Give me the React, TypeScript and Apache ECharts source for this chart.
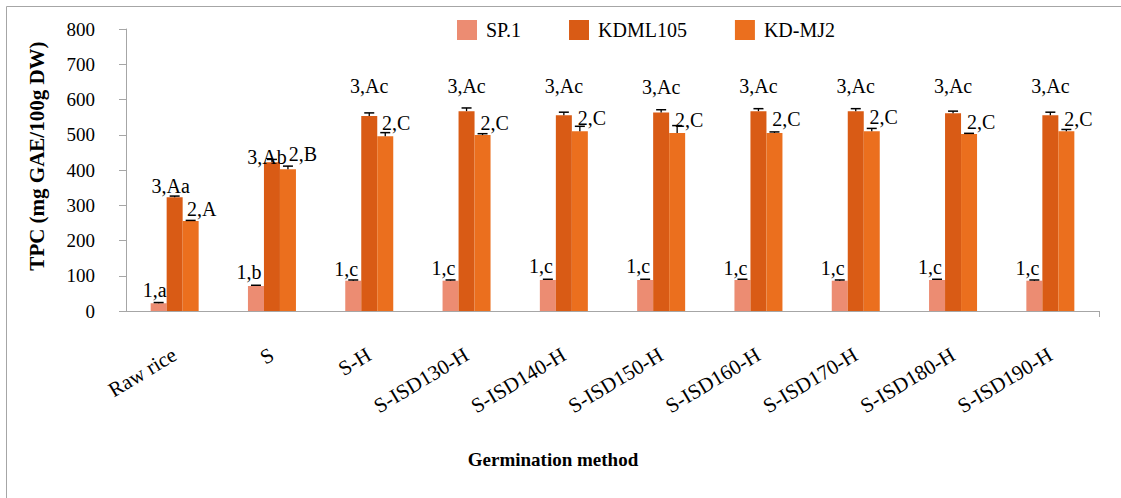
import React, { useEffect, useRef } from "react";
import * as echarts from "echarts";

const categories = ["Raw rice", "S", "S-H", "S-ISD130-H", "S-ISD140-H", "S-ISD150-H", "S-ISD160-H", "S-ISD170-H", "S-ISD180-H", "S-ISD190-H"];
const seriesNames = ["SP.1", "KDML105", "KD-MJ2"];

const sp1 = [22, 71, 86, 86, 88, 88, 88, 86, 88, 86];
const sp1Err = [2, 2, 2, 2, 2, 2, 2, 2, 2, 2];
const kdml = [323, 422, 553, 567, 555, 563, 567, 567, 561, 555];
const kdmlErr = [3, 8, 9, 9, 9, 8, 7, 7, 6, 9];
const kdmj = [255, 402, 496, 499, 510, 505, 505, 510, 502, 510];
const kdmjErr = [2, 9, 10, 4, 14, 21, 3, 8, 2, 5];

const sp1Labels = ["1,a", "1,b", "1,c", "1,c", "1,c", "1,c", "1,c", "1,c", "1,c", "1,c"];
const kdmlLabels = ["3,Aa", "3,Ab", "3,Ac", "3,Ac", "3,Ac", "3,Ac", "3,Ac", "3,Ac", "3,Ac", "3,Ac"];
const kdmjLabels = ["2,A", "2,B", "2,C", "2,C", "2,C", "2,C", "2,C", "2,C", "2,C", "2,C"];

const yTicks = { min: 0, max: 800, interval: 100 };

// label placement (pixel style offsets relative to the bar top)
const sp1LabelDx = [-4, -7, -7, -7, -7, -7, -7, -7, -7, -7];
const sp1LabelLift = [13, 14, 12, 13, 14, 14, 12, 13, 13, 13];
const kdmlLabelDx = [-4, -5, 0, 0, 0, 0, 0, 0, 0, 0];
const kdmlLabelLift = [11, 5, 30, 25, 29, 26, 25, 25, 27, 29];
const kdmjLabelDx = [11, 15, 11, 12, 12, 12, 12, 12, 12, 12];
const kdmjLabelLift = [12, 15, 13, 12, 13, 13, 14, 14, 12, 12];

const colors = ["#EC8C72", "#D95B15", "#EB6F1E"];
const FONT = "Liberation Serif";
const BAR_W = 16;

export default function App() {
  const ref = useRef<HTMLDivElement>(null);
  useEffect(() => {
    if (!ref.current) return;
    const chart = echarts.init(ref.current, null, { renderer: "svg" });

    const values = [sp1, kdml, kdmj];
    const errs = [sp1Err, kdmlErr, kdmjErr];
    const labels = [sp1Labels, kdmlLabels, kdmjLabels];
    const dxs = [sp1LabelDx, kdmlLabelDx, kdmjLabelDx];
    const lifts = [sp1LabelLift, kdmlLabelLift, kdmjLabelLift];

    const barSeries = seriesNames.map((name, s) => ({
      name,
      type: "bar",
      data: values[s],
      barWidth: BAR_W,
      barGap: "0%",
      itemStyle: { color: colors[s] },
      z: 2,
    }));

    const errSeries = seriesNames.map((name, s) => ({
      type: "custom",
      name: name + "-err",
      data: values[s].map((v, i) => [i, v, errs[s][i]]),
      z: 5,
      silent: true,
      renderItem: (params: any, api: any) => {
        const i = api.value(0);
        const v = api.value(1);
        const e = api.value(2);
        const base = api.coord([i, v]);
        const top = api.coord([i, v + e]);
        const x = base[0] + (s - 1) * BAR_W;
        const idx = params.dataIndex;
        const ly = base[1] - lifts[s][idx];
        return {
          type: "group",
          children: [
            { type: "line", shape: { x1: x, y1: base[1], x2: x, y2: top[1] }, style: { stroke: "#000", lineWidth: 1.3 } },
            { type: "line", shape: { x1: x - 5, y1: top[1], x2: x + 5, y2: top[1] }, style: { stroke: "#000", lineWidth: 1.5 } },
            {
              type: "text",
              x: x + dxs[s][idx],
              y: ly,
              style: {
                text: labels[s][idx],
                fill: "#000",
                fontSize: 20,
                fontFamily: FONT,
                align: "center",
                verticalAlign: "middle",
              },
            },
          ],
        };
      },
    }));

    chart.setOption({
      animation: false,
      textStyle: { fontFamily: FONT, color: "#000" },
      legend: {
        data: seriesNames,
        top: 20,
        left: 457,
        padding: 0,
        itemWidth: 20,
        itemHeight: 20,
        itemGap: 48,
        icon: "rect",
        textStyle: { fontSize: 20, color: "#000", fontFamily: FONT, padding: [0, 0, 0, 4] },
      },
      grid: { left: 126, right: 22, top: 29, bottom: 187 },
      xAxis: {
        type: "category",
        data: categories,
        axisLine: { lineStyle: { color: "#a6a6a6", width: 1 } },
        axisTick: { alignWithLabel: true, length: 6, lineStyle: { color: "#a6a6a6" } },
        axisLabel: { rotate: 31, margin: 42, fontSize: 21, color: "#000", fontFamily: FONT, interval: 0 },
      },
      yAxis: {
        type: "value",
        min: yTicks.min,
        max: yTicks.max,
        interval: yTicks.interval,
        axisLine: { show: true, lineStyle: { color: "#a6a6a6", width: 1 } },
        axisTick: { show: true, length: 7, lineStyle: { color: "#a6a6a6" } },
        splitLine: { show: false },
        axisLabel: { fontSize: 19, margin: 31, color: "#000", fontFamily: FONT },
      },
      graphic: [
        { type: "line", shape: { x1: 6.5, y1: 6.5, x2: 1121, y2: 6.5 }, style: { stroke: "#a6a6a6", lineWidth: 1 } },
        { type: "line", shape: { x1: 6.5, y1: 6.5, x2: 6.5, y2: 498 }, style: { stroke: "#a6a6a6", lineWidth: 1 } },
        { type: "line", shape: { x1: 1099.5, y1: 311, x2: 1099.5, y2: 317 }, style: { stroke: "#a6a6a6", lineWidth: 1 } },
        {
          type: "text",
          x: 37,
          y: 156,
          rotation: Math.PI / 2,
          style: {
            text: "TPC (mg GAE/100g DW)",
            fill: "#000",
            fontSize: 21,
            fontWeight: "bold",
            fontFamily: FONT,
            align: "center",
            verticalAlign: "middle",
          },
        },
        {
          type: "text",
          x: 553,
          y: 459,
          style: {
            text: "Germination method",
            fill: "#000",
            fontSize: 19,
            fontWeight: "bold",
            fontFamily: FONT,
            align: "center",
            verticalAlign: "middle",
          },
        },
      ],
      series: [...barSeries, ...errSeries],
    });

    return () => chart.dispose();
  }, []);

  return <div ref={ref} style={{ position: "fixed", left: 0, top: 0, width: 1121, height: 498, background: "#fff" }} />;
}
